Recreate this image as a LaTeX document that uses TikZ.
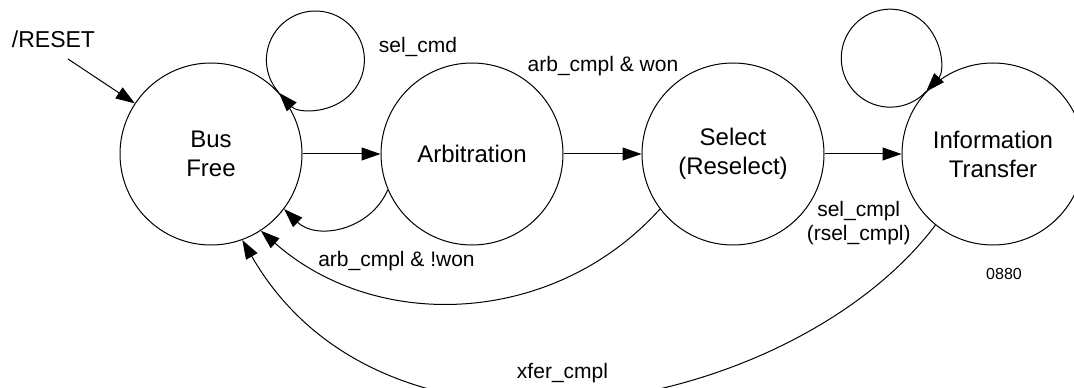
\documentclass[tikz,border=0pt]{standalone}
\usepackage{fontspec}
\setmainfont{Liberation Sans}
\usetikzlibrary{arrows.meta}
\begin{document}
\begin{tikzpicture}[x=1pt,y=1pt,
  state/.style={draw, circle, line width=1pt, minimum size=182pt, inner sep=0pt,
    align=center, font=\fontsize{24}{29}\selectfont},
  trans/.style={line width=1pt, -{Triangle[length=19pt,width=13pt]}},
  lbl/.style={inner sep=0pt, font=\fontsize{21}{24}\selectfont},
]
\useasboundingbox (0,0) rectangle (1074,388);
\clip (0,0) rectangle (1074,388);

% bus phases
\node[state] (bus)  at (211,234) {Bus\\Free};
\node[state] (arb)  at (472,234) {Arbitration};
\node[state] (sel)  at (733,234) {Select\\(Reselect)};
\node[state] (info) at (993,234) {Information\\Transfer};

% transition labels
\node[lbl, font=\fontsize{23}{29}\selectfont, anchor=base] (reset) at (53.5,340.3) {/RESET};
\node[lbl, anchor=base] (lselcmd) at (418,335.7) {sel\_cmd};
\node[lbl, anchor=base] (lwon) at (603,316.3) {arb\_cmpl \& won};
\node[lbl, anchor=base] (llost) at (396.5,121.3) {arb\_cmpl \& !won};
\node[lbl, align=center] (lselcmpl) at (858.7,164.9) {sel\_cmpl\\(rsel\_cmpl)};
\node[lbl, font=\fontsize{16}{19}\selectfont, anchor=base] (lnum) at (1004,108) {0880};
\node[lbl, anchor=base] (lxfer) at (562.5,9.7) {xfer\_cmpl};

% reset entry
\coordinate (rs) at (68,329);
\draw[trans] (rs) -- (bus);

% forward transitions
\draw[trans] (bus) -- (arb);
\draw[trans] (arb) -- (sel);
\draw[trans] (sel) -- (info);

% self loops
\draw[trans] (bus.42) arc[start angle=222, delta angle=-360, radius=49];
\draw[trans] (info.137) arc[start angle=317, delta angle=-360, radius=49];

% return paths to Bus Free
\draw[trans] (arb.203) to[out=246.7, in=315.6, looseness=1.09] (bus.323);
\draw[trans] (sel.217) to[out=228, in=318.7] (bus.303);
\draw[trans] (info.231) to[out=233, in=300, out distance=232, in distance=296] (bus.290);
\end{tikzpicture}
\end{document}
